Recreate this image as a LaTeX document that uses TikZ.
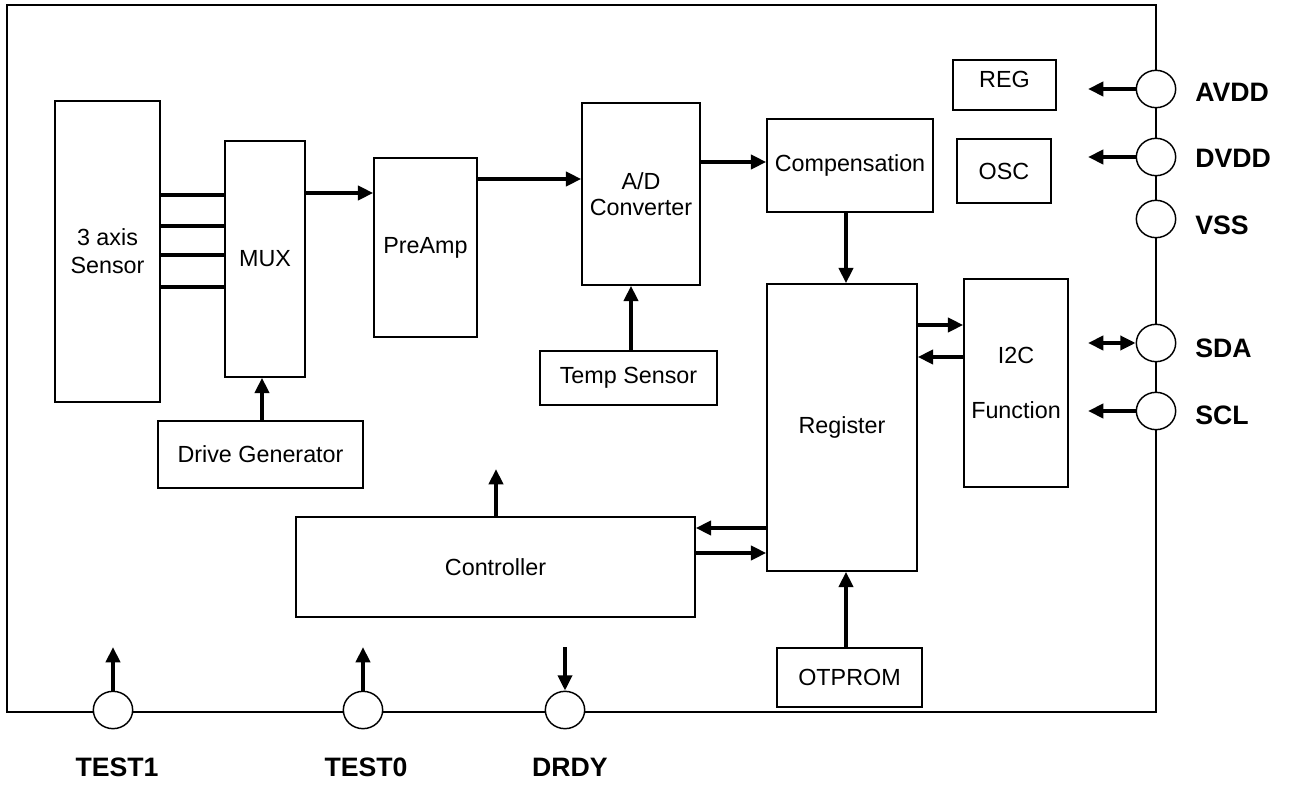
\documentclass[tikz,border=0pt]{standalone}
\usepackage{fontspec}
\setmainfont{Liberation Sans}
\usetikzlibrary{arrows.meta,shapes.geometric}
\begin{document}
\begin{tikzpicture}[x=0.75pt,y=-0.75pt,
  box/.style={draw,line width=1.1pt,inner sep=0pt,align=center,font=\fontsize{17.5}{20}\selectfont},
  txt/.style={inner sep=0pt,align=center,font=\fontsize{17.5}{20}\selectfont},
  pin/.style={draw,ellipse,line width=1.1pt,fill=white,minimum width=29.5pt,minimum height=28pt,inner sep=0pt},
  pinlabel/.style={inner sep=0pt,font=\fontsize{20}{24}\selectfont\bfseries},
  arr/.style={line width=3pt,-{Triangle[length=11.5pt,width=10.5pt]}},
  darr/.style={line width=3pt,{Triangle[length=11.5pt,width=10.5pt]}-{Triangle[length=11.5pt,width=10.5pt]}},
  bus/.style={line width=3pt}]
\useasboundingbox (0,0) rectangle (1296,787);
% frame
\draw[line width=1.1pt] (7,5) rectangle (1156,712);
% boxes
\node[box,minimum width=78.75pt,minimum height=225.75pt] (sensor) at (107.5,251.5) {3 axis\\[1pt]Sensor};
\node[box,minimum width=60pt,minimum height=177pt] (mux) at (265,259) {MUX};
\node[box,minimum width=77.25pt,minimum height=134.25pt] (preamp) at (425.5,247.5) {PreAmp};
\node[box,minimum width=88.5pt,minimum height=136.5pt] (adc) at (641,194) {A/D\\Converter};
\node[box,minimum width=124.5pt,minimum height=69.75pt] (comp) at (850,165.5) {Compensation};
\node[box,minimum width=77.25pt,minimum height=37.5pt] (reg) at (1004.5,85) {};
\node[txt] at (1004.5,79) {REG};
\node[box,minimum width=70.5pt,minimum height=48pt] (osc) at (1004,171) {OSC};
\node[box,minimum width=132.75pt,minimum height=40.5pt] (temp) at (628.5,378) {Temp Sensor};
\node[box,minimum width=153.75pt,minimum height=50.25pt] (drive) at (260.5,454.5) {Drive Generator};
\node[box,minimum width=112.5pt,minimum height=215.25pt] (register) at (842,427.5) {Register};
\node[box,minimum width=78pt,minimum height=156pt] (i2c) at (1016,383) {};
\node[txt] at (1016,355) {I2C};
\node[txt] at (1016,410) {Function};
\node[box,minimum width=299.25pt,minimum height=75pt] (ctrl) at (495.5,567) {Controller};
\node[box,minimum width=108.75pt,minimum height=44.25pt] (otprom) at (849.5,677.5) {OTPROM};
% pins
\node[pin] (avdd) at (1156,89) {};
\node[pin] (dvdd) at (1156,157) {};
\node[pin] (vss) at (1156,219) {};
\node[pin] (sda) at (1156,343) {};
\node[pin] (scl) at (1156,411) {};
\node[pin] (test1) at (113,710) {};
\node[pin] (test0) at (363,710) {};
\node[pin] (drdy) at (565,710) {};
\node[pinlabel,anchor=west] at (1195,92) {AVDD};
\node[pinlabel,anchor=west] at (1195,158) {DVDD};
\node[pinlabel,anchor=west] at (1195,225) {VSS};
\node[pinlabel,anchor=west] at (1195,348) {SDA};
\node[pinlabel,anchor=west] at (1195,415) {SCL};
\node[pinlabel] at (117,767) {TEST1};
\node[pinlabel] at (366,767) {TEST0};
\node[pinlabel] at (570,767) {DRDY};
% free ends
\coordinate (avddend) at (1088,89);
\coordinate (dvddend) at (1088,157);
\coordinate (sdaend) at (1088,343);
\coordinate (sclend) at (1088,411);
\coordinate (test1end) at (113,647);
\coordinate (test0end) at (363,647);
\coordinate (drdyend) at (565,647);
\coordinate (ctrlend) at (496,469);
% sensor to mux
\foreach \yy in {195,226,255,287}{
  \draw[bus] (sensor.east |- 0,\yy) -- (mux.west |- 0,\yy);
}
% arrows
\draw[arr] (mux.east |- 0,193) -- (preamp.west |- 0,193);
\draw[arr] (preamp.east |- 0,179) -- (adc.west |- 0,179);
\draw[arr] (adc.east |- 0,162) -- (comp.west |- 0,162);
\draw[arr] (comp.south -| 846,0) -- (register.north -| 846,0);
\draw[arr] (temp.north -| 631,0) -- (adc.south -| 631,0);
\draw[arr] (drive.north -| 262,0) -- (mux.south -| 262,0);
\draw[arr] (register.east |- 0,325) -- (i2c.west |- 0,325);
\draw[arr] (i2c.west |- 0,357) -- (register.east |- 0,357);
\draw[arr] (register.west |- 0,528) -- (ctrl.east |- 0,528);
\draw[arr] (ctrl.east |- 0,553) -- (register.west |- 0,553);
\draw[arr] (otprom.north -| 846,0) -- (register.south -| 846,0);
\draw[arr] (ctrl.north -| 496,0) -- (ctrlend);
\draw[arr] (avdd.west) -- (avddend);
\draw[arr] (dvdd.west) -- (dvddend);
\draw[darr] (sda.west) -- (sdaend);
\draw[arr] (scl.west) -- (sclend);
\draw[arr] (test1.north) -- (test1end);
\draw[arr] (test0.north) -- (test0end);
\draw[arr] (drdyend) -- (drdy.north);
\end{tikzpicture}
\end{document}
